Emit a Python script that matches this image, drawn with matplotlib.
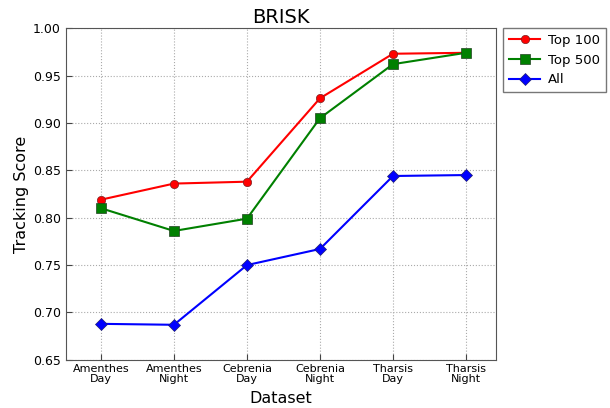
import matplotlib
matplotlib.use("Agg")
import matplotlib.pyplot as plt

datasets = ["Amenthes\nDay", "Amenthes\nNight", "Cebrenia\nDay",
            "Cebrenia\nNight", "Tharsis\nDay", "Tharsis\nNight"]
top100 = [0.819, 0.836, 0.838, 0.926, 0.973, 0.974]
top500 = [0.810, 0.786, 0.799, 0.905, 0.962, 0.974]
all_pts = [0.688, 0.687, 0.750, 0.767, 0.844, 0.845]

fig = plt.figure(figsize=(6.1, 4.08), dpi=100)
ax = fig.add_axes([0.108, 0.118, 0.705, 0.813])

x = list(range(len(datasets)))
ax.plot(x, top100, color="red", marker="o", markersize=6, linewidth=1.5,
        markeredgecolor="#7a2020", markeredgewidth=0.5, label="Top 100")
ax.plot(x, top500, color="green", marker="s", markersize=7, linewidth=1.5,
        markeredgecolor="#204020", markeredgewidth=0.5, label="Top 500")
ax.plot(x, all_pts, color="blue", marker="D", markersize=6, linewidth=1.5,
        markeredgecolor="#202070", markeredgewidth=0.5, label="All")

ax.set_xlim(-0.48, 5.41)
ax.set_ylim(0.65, 1.0)
ax.set_yticks([0.65, 0.70, 0.75, 0.80, 0.85, 0.90, 0.95, 1.00])
ax.set_yticklabels(["%.2f" % v for v in ax.get_yticks()], fontsize=9)
ax.set_xticks(x)
ax.set_xticklabels(datasets, fontsize=8, linespacing=1.0)
ax.tick_params(direction="in", length=4, color="#444444")
ax.tick_params(axis="x", pad=3)
ax.grid(True, linestyle=":", color="#aaaaaa", linewidth=0.8)
for s in ax.spines.values():
    s.set_color("#555555")

ax.set_title("BRISK", fontsize=14, pad=4)
ax.set_xlabel("Dataset", fontsize=11.5, labelpad=5)
ax.set_ylabel("Tracking Score", fontsize=11.5, labelpad=3)

leg = ax.legend(loc="upper left", bbox_to_anchor=(1.016, 1.0), fontsize=9.5,
                fancybox=False, edgecolor="#555555", handlelength=2.4,
                handletextpad=0.55, borderpad=0.45, labelspacing=0.5,
                borderaxespad=0.0)
leg.get_frame().set_linewidth(1.0)

fig.savefig("out.png", dpi=100)
